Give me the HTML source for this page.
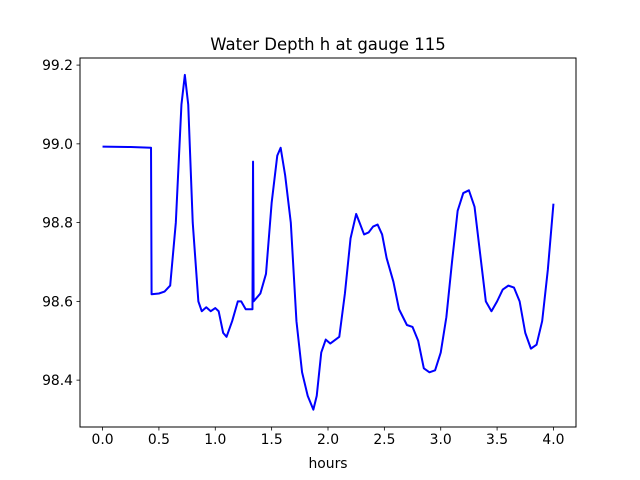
<!DOCTYPE html>
<html><head><meta charset="utf-8"><style>
html,body{margin:0;padding:0;background:#fff;}
svg{display:block;font-family:"DejaVu Sans","Liberation Sans",sans-serif;}
</style></head><body>
<svg id="chart" width="640" height="480" viewBox="0 0 640 480" xmlns="http://www.w3.org/2000/svg">
<rect width="640" height="480" fill="#fff"/>
<text x="328" y="50" text-anchor="middle" font-size="16.5" fill="#000">Water Depth h at gauge 115</text>
<g id="plot"></g>
<rect x="80" y="58" width="496" height="369" fill="none" stroke="#000" stroke-width="1"/>
<text x="328" y="468" text-anchor="middle" font-size="13.9" fill="#000">hours</text>
</svg>
<script>
const xTicks = [0, 0.5, 1, 1.5, 2, 2.5, 3, 3.5, 4];
const xTickLabels = ["0.0","0.5","1.0","1.5","2.0","2.5","3.0","3.5","4.0"];
const yTicks = [98.4, 98.6, 98.8, 99.0, 99.2];
const yTickLabels = ["98.4","98.6","98.8","99.0","99.2"];
const hours = [0,0.25,0.43,0.435,0.5,0.55,0.6,0.65,0.7,0.73,0.76,0.8,0.85,0.88,0.92,0.96,1.0,1.03,1.07,1.1,1.15,1.2,1.23,1.27,1.33,1.335,1.34,1.4,1.45,1.5,1.55,1.58,1.62,1.67,1.72,1.77,1.82,1.87,1.9,1.94,1.98,2.02,2.1,2.15,2.2,2.25,2.28,2.32,2.36,2.4,2.44,2.48,2.52,2.58,2.63,2.7,2.75,2.8,2.85,2.9,2.95,3.0,3.05,3.1,3.15,3.2,3.25,3.3,3.35,3.4,3.45,3.5,3.55,3.6,3.65,3.7,3.75,3.8,3.85,3.9,3.95,4.0];
const depth = [98.993,98.992,98.99,98.618,98.62,98.625,98.64,98.8,99.1,99.175,99.1,98.8,98.6,98.575,98.585,98.575,98.583,98.575,98.52,98.51,98.55,98.6,98.6,98.58,98.58,98.955,98.6,98.62,98.67,98.85,98.97,98.99,98.92,98.8,98.55,98.42,98.36,98.325,98.36,98.47,98.503,98.493,98.51,98.62,98.76,98.822,98.8,98.77,98.775,98.79,98.795,98.77,98.71,98.65,98.58,98.54,98.535,98.5,98.43,98.42,98.425,98.47,98.56,98.7,98.83,98.875,98.882,98.84,98.72,98.6,98.575,98.6,98.63,98.64,98.635,98.6,98.52,98.48,98.49,98.55,98.68,98.848];

const L=80,R=576,T=58,B=427;
const xMin=-0.2,xMax=4.2,yMin=98.281,yMax=99.218;
const xs=v=>L+(v-xMin)/(xMax-xMin)*(R-L);
const ys=v=>B-(v-yMin)/(yMax-yMin)*(B-T);
const NS="http://www.w3.org/2000/svg";
const g=document.getElementById('plot');
function mk(tag,attrs){const e=document.createElementNS(NS,tag);for(const k in attrs)e.setAttribute(k,attrs[k]);g.appendChild(e);return e;}
xTicks.forEach((t,i)=>{
  const l=mk('line',{x1:xs(t),x2:xs(t),y1:B,y2:B+3.5,stroke:'#000','stroke-width':0.8});
  
  
  const tx=mk('text',{x:xs(t),y:B+17,'text-anchor':'middle','font-size':13.9,fill:'#000'});
  tx.textContent=xTickLabels[i];
  
  
});
yTicks.forEach((t,i)=>{
  const l=mk('line',{x1:L-3.5,x2:L,y1:ys(t),y2:ys(t),stroke:'#000','stroke-width':0.8});
  
  
  const tx=mk('text',{x:L-7,y:ys(t)+5,'text-anchor':'end','font-size':13.9,fill:'#000'});
  tx.textContent=yTickLabels[i];
  
  
});
const pts=hours.map((h,i)=>[xs(h),ys(depth[i])]);
let d='M'+pts[0][0]+','+pts[0][1];
for(let i=1;i<pts.length;i++){d+=' L'+pts[i][0].toFixed(2)+','+pts[i][1].toFixed(2);}
const p=mk('path',{d:d,fill:'none',stroke:'#0000ff','stroke-width':2,'stroke-linejoin':'round'});


</script>
</body></html>
